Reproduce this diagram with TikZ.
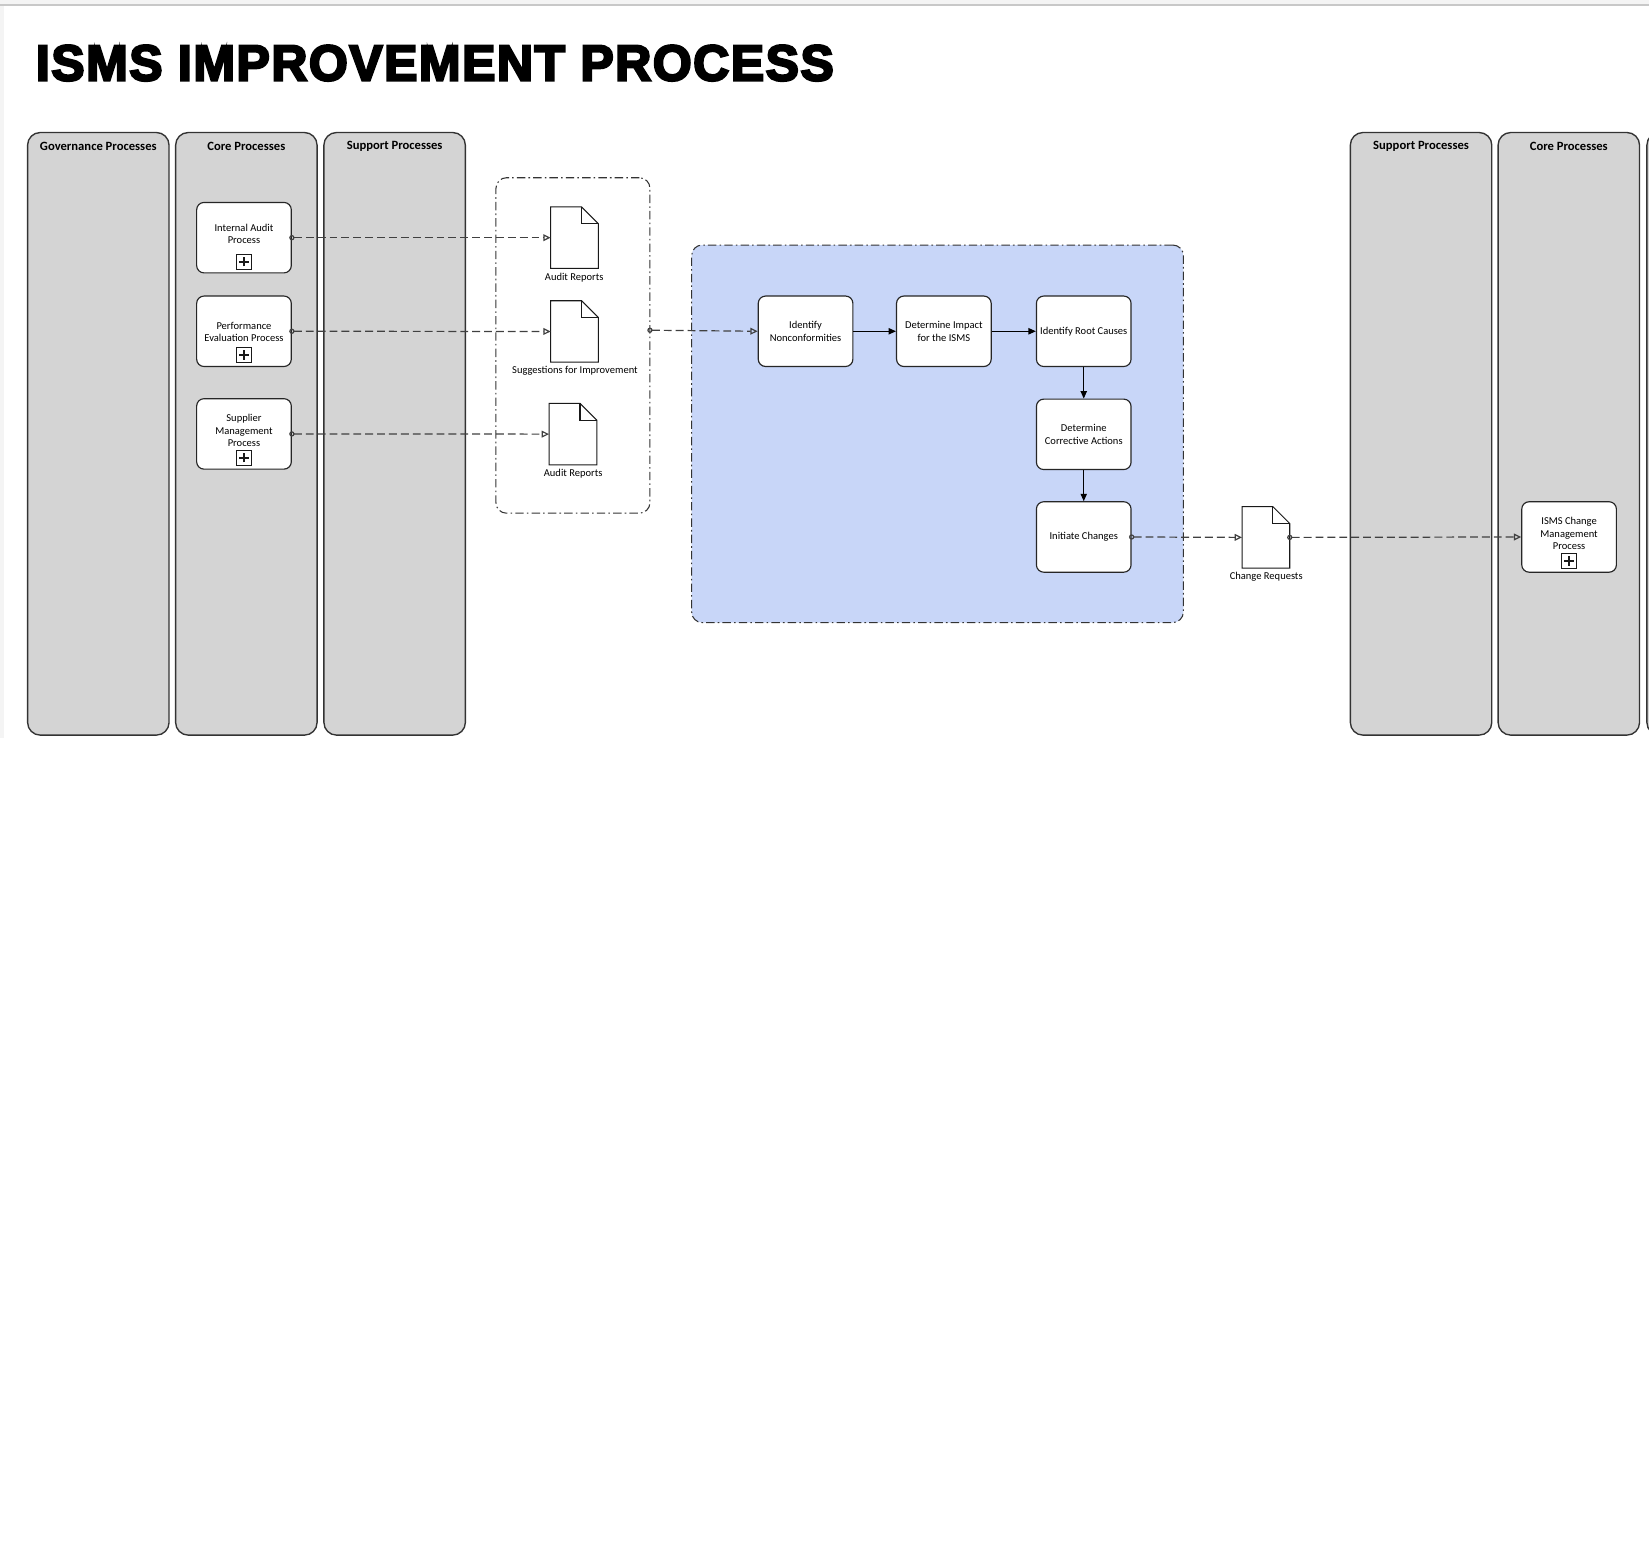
\documentclass[tikz,border=0pt]{standalone}
\usepackage{graphicx}
\usepackage{fontspec}
\setmainfont{Carlito}
\newfontfamily\titlefont{Liberation Sans}[BoldFeatures={FakeBold=4.5,LetterSpace=3}]
\usetikzlibrary{arrows.meta,calc}
\definecolor{lanegray}{RGB}{212,212,212}
\definecolor{grpblue}{RGB}{200,214,248}
\definecolor{edgegray}{RGB}{200,200,200}
\definecolor{stripgray}{RGB}{244,244,244}
\tikzset{
  lane/.style={draw=black!80, line width=1.3pt, fill=lanegray, rounded corners=12pt,
    minimum width=134.5pt, minimum height=573pt, inner sep=0pt},
  hdr/.style={font=\bfseries\fontsize{12}{14}\selectfont, inner sep=0pt},
  task/.style={draw=black!85, line width=1.1pt, fill=white, rounded corners=7pt,
    minimum width=90pt, minimum height=67pt, inner sep=0pt, align=center,
    font=\fontsize{10}{12}\selectfont},
  tasktext/.style={align=center, inner sep=0pt, font=\fontsize{10}{12}\selectfont},
  doc/.style={minimum width=45pt, minimum height=58pt, inner sep=0pt},
  doclbl/.style={inner sep=0pt, font=\fontsize{10}{12}\selectfont},
  docline/.style={draw=black!90, line width=1pt, fill=white, line join=miter},
  plusicon/.style={draw=black!90, line width=1pt, fill=white, minimum size=14.5pt,
    inner sep=0pt,
    path picture={\draw[line width=1.8pt] ([xshift=-4.5pt]path picture bounding box.center) -- ([xshift=4.5pt]path picture bounding box.center);
                  \draw[line width=1.8pt] ([yshift=-4.5pt]path picture bounding box.center) -- ([yshift=4.5pt]path picture bounding box.center);}},
  grp/.style={draw=black!80, line width=1pt, rounded corners=10pt, inner sep=0pt,
    dash pattern=on 8pt off 3pt on 1.5pt off 3pt},
  msg/.style={draw=black!75, line width=1.15pt, dash pattern=on 7.5pt off 3.8pt,
    shorten <=-2.5pt,
    {Circle[open,length=5pt,width=5pt]}-{Triangle[open,length=7pt,width=6.5pt]}},
  seq/.style={draw=black, line width=1pt, -{Triangle[length=7pt,width=6pt]}},
}
\newcommand{\docfold}[1]{%
  \draw[docline] (#1.south west) -- (#1.north west) -- ([xshift=-16pt]#1.north east)
     -- ([yshift=-16pt]#1.north east) -- (#1.south east) -- cycle;
  \draw[docline,fill=none] ([xshift=-16pt]#1.north east) |- ([yshift=-16pt]#1.north east);
}
\begin{document}
\begin{tikzpicture}[x=1pt,y=-1pt]
\useasboundingbox (0,0) rectangle (1568,1487);
\clip (0,0) rectangle (1568,1487);
\fill[white] (0,0) rectangle (1568,1487);
% page edge strips
\fill[stripgray] (0,0) rectangle (1568,4.75);
\fill[stripgray] (0,4.75) rectangle (3.8,702);
\draw[edgegray, line width=1pt] (0,4.75) -- (1568,4.75);

% title
\node[anchor=west, inner sep=0pt] (title) at (34,60)
  {\titlefont\bfseries\fontsize{48}{48}\selectfont\scalebox{0.99}[1]{ISMS IMPROVEMENT PROCESS}};

% lanes
\node[lane] (govlane) at (93.5,412.5) {};
\node[lane] (corelane) at (234.25,412.5) {};
\node[lane] (suplane) at (375.25,412.5) {};
\node[lane] (suplane2) at (1351.25,412.5) {};
\node[lane] (corelane2) at (1491.75,412.5) {};
\node[lane] (extralane) at (1633.25,412.5) {};
\node[hdr] (govh) at (93.5,139.5) {Governance Processes};
\node[hdr] (coreh) at (234.25,139.5) {Core Processes};
\node[hdr] (suph) at (375.25,139.5) {Support Processes};
\node[hdr] (suph2) at (1351.25,139.5) {Support Processes};
\node[hdr] (coreh2) at (1491.75,139.5) {Core Processes};

% groups
\node[grp, minimum width=146.4pt, minimum height=319pt] (g1) at (544.8,328.5) {};
\node[grp, fill=grpblue, minimum width=467.5pt, minimum height=359pt] (g2) at (891.45,412.5) {};

% core process tasks
\node[task] (t1) at (232,226) {};
\node[tasktext] (t1txt) at (232,222.5) {Internal Audit\\Process};
\node[plusicon] (p1) at (232,248.8) {};
\node[task] (t2) at (232,315) {};
\node[tasktext] (t2txt) at (232,315.5) {Performance\\Evaluation Process};
\node[plusicon] (p2) at (232,337.6) {};
\node[task] (t3) at (232,412.6) {};
\node[tasktext] (t3txt) at (232,409.4) {Supplier\\Management\\Process};
\node[plusicon] (p3) at (232,435.2) {};

% documents
\node[doc] (d1) at (546.3,226) {};
\docfold{d1}
\node[doclbl] (d1l) at (546,263.7) {Audit Reports};
\node[doc] (d2) at (546.3,315.2) {};
\docfold{d2}
\node[doclbl] (d2l) at (546.7,352.8) {Suggestions for Improvement};
\node[doc] (d3) at (544.8,412.8) {};
\docfold{d3}
\node[doclbl] (d3l) at (545,450.7) {Audit Reports};
\node[doc] (d4) at (1203.7,511) {};
\docfold{d4}
\node[doclbl] (d4l) at (1204,548.7) {Change Requests};

% improvement tasks
\node[task] (inc) at (766,315) {Identify\\Nonconformities};
\node[task] (di) at (897.5,315) {Determine Impact\\for the ISMS};
\node[task] (irc) at (1030.5,315) {Identify Root Causes};
\node[task] (dca) at (1030.5,413) {Determine\\Corrective Actions};
\node[task] (ic) at (1030.5,510.6) {Initiate Changes};

% change management
\node[task] (cm) at (1492,510.6) {};
\node[tasktext] (cmtxt) at (1492,507.4) {ISMS Change\\Management\\Process};
\node[plusicon] (p4) at (1492,533.4) {};

% connectors
\draw[msg] (t1.east) -- (d1.west);
\draw[msg] (t2.east) -- (d2.west);
\draw[msg] (t3.east) -- (d3.west);
\coordinate (gout) at (618,314);
\draw[msg] (gout) -- (inc.west);
\draw[seq] (inc) -- (di);
\draw[seq] (di) -- (irc);
\draw[seq] (irc) -- (dca);
\draw[seq] (dca) -- (ic);
\draw[msg] (ic.east) -- (d4.west);
\draw[msg] (d4.east) -- (cm.west);
\end{tikzpicture}
\end{document}
